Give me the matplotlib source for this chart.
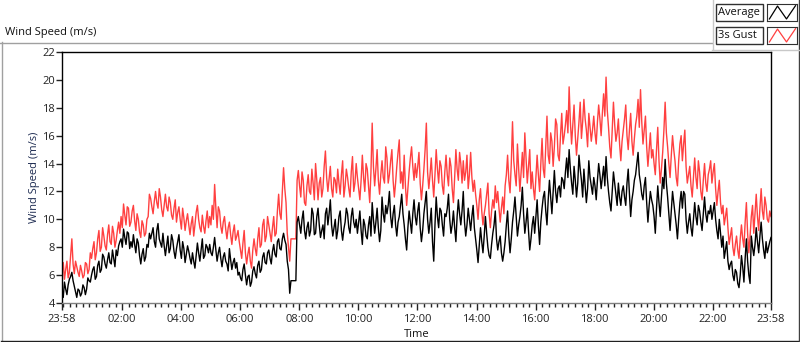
import matplotlib
matplotlib.use('Agg')
import matplotlib.pyplot as plt
from matplotlib.lines import Line2D
from matplotlib.patches import Rectangle
import numpy as np

# ---------------- data (2.5-minute samples starting 23:58) ----------------
minutes = np.arange(0, 1441, 2.5)

gust = [
    6.5, 6.9, 5.7, 6.4, 7.0, 5.8, 6.2, 7.4, 8.6, 6.8, 6.1, 7.0, 6.6, 6.2, 5.9, 6.7, 6.3, 5.8, 6.0, 6.9, 6.8, 6.1, 6.4, 7.6,
    7.2, 7.9, 8.4, 7.1, 7.6, 8.6, 9.2, 7.7, 8.0, 9.4, 8.8, 8.1, 7.8, 8.9, 9.6, 8.4, 8.2, 9.5, 9.0, 8.0, 8.5, 9.2, 9.8, 9.0,
    10.2, 9.4, 11.1, 10.3, 9.6, 10.9, 10.8, 9.5, 9.8, 10.6, 11.0, 9.9, 9.2, 10.4, 10.0, 9.1, 8.7, 9.9, 9.6, 8.8, 9.0, 10.0, 10.2, 11.8,
    11.5, 10.9, 10.4, 11.3, 12.0, 11.2, 10.8, 12.2, 11.6, 10.7, 10.2, 11.0, 11.8, 10.9, 10.6, 11.6, 11.2, 10.3, 10.0, 10.8, 11.4, 9.8, 10.5, 10.9,
    10.0, 9.3, 10.8, 10.1, 9.2, 9.9, 10.4, 9.6, 8.9, 9.7, 10.2, 8.8, 9.6, 10.5, 11.0, 10.0, 9.4, 9.1, 10.3, 9.5, 9.0, 9.9, 10.6, 9.4,
    10.2, 9.6, 11.0, 10.0, 12.5, 10.8, 9.4, 10.9, 10.6, 9.5, 9.0, 9.8, 10.2, 9.3, 8.6, 9.4, 9.8, 8.9, 8.2, 9.1, 9.6, 8.5, 8.8, 9.2,
    8.4, 7.8, 7.2, 8.3, 9.2, 7.6, 6.8, 7.5, 8.0, 7.0, 6.5, 7.8, 8.6, 7.9, 7.4, 8.6, 9.4, 8.0, 8.2, 9.6, 10.0, 8.4, 8.8, 10.2,
    9.6, 9.0, 8.4, 9.4, 10.2, 8.8, 9.0, 10.6, 11.8, 10.4, 10.0, 12.0, 13.7, 12.2, 11.2, 9.0, 8.0, 7.0, 8.6, 8.6, 8.6, 8.6, 8.6, 12.8,
    13.5, 12.4, 11.6, 13.4, 12.8, 11.2, 11.0, 12.4, 13.2, 12.0, 11.8, 13.6, 12.6, 11.4, 14.0, 12.8, 11.4, 12.6, 13.0, 11.6, 12.2, 13.8, 14.9, 13.0,
    12.0, 12.9, 13.8, 12.2, 11.6, 13.0, 12.8, 11.9, 13.6, 12.6, 11.8, 13.2, 14.2, 11.6, 12.4, 13.6, 13.0, 12.2, 11.6, 13.4, 14.5, 12.0, 12.6, 14.0,
    13.0, 12.2, 11.4, 12.8, 14.6, 13.0, 12.0, 14.0, 13.6, 12.4, 11.2, 13.4, 16.9, 13.8, 12.4, 13.6, 15.0, 12.8, 11.8, 13.2, 14.2, 13.0, 12.6, 15.2,
    14.4, 12.6, 13.2, 14.2, 15.0, 12.8, 11.6, 12.6, 13.8, 14.8, 15.7, 12.6, 13.4, 12.2, 14.6, 12.4, 11.0, 12.2, 13.4, 14.4, 15.2, 13.8, 12.8, 14.0,
    13.0, 13.8, 14.8, 12.6, 11.4, 12.4, 13.6, 15.0, 16.9, 13.4, 12.2, 13.2, 14.4, 12.8, 11.6, 13.2, 15.0, 13.6, 12.6, 14.2, 13.8, 12.4, 11.8, 13.4,
    14.6, 13.2, 12.4, 14.4, 13.8, 12.2, 11.2, 13.0, 15.0, 13.6, 12.8, 14.8, 14.0, 12.6, 14.2, 12.8, 13.4, 14.6, 12.2, 13.2, 14.8, 13.0, 12.0, 12.8,
    11.8, 11.0, 10.0, 11.4, 12.2, 10.6, 9.6, 10.4, 11.0, 11.8, 12.6, 10.4, 9.4, 10.6, 11.4, 10.8, 12.4, 11.2, 12.0, 10.8, 9.8, 10.8, 11.6, 10.4,
    12.4, 13.2, 14.6, 12.8, 11.9, 14.0, 17.0, 14.2, 13.2, 12.4, 15.4, 13.6, 12.0, 13.4, 14.8, 13.0, 16.2, 14.4, 12.6, 13.8, 15.0, 12.2, 13.4, 12.2,
    11.4, 13.0, 14.6, 13.2, 12.0, 14.0, 15.8, 13.6, 13.0, 15.2, 17.4, 14.6, 14.0, 16.2, 15.6, 13.8, 15.2, 17.2, 16.8, 14.6, 14.2, 16.0, 17.6, 15.4,
    16.0, 16.8, 17.8, 16.2, 19.5, 17.0, 15.4, 16.8, 18.2, 16.0, 14.6, 15.8, 17.0, 18.4, 15.8, 17.0, 18.6, 17.2, 16.4, 15.2, 17.6, 16.6, 15.6, 16.4,
    17.4, 16.2, 15.4, 17.0, 18.2, 17.2, 16.0, 17.6, 19.0, 17.4, 20.2, 17.8, 16.6, 15.2, 14.4, 16.4, 18.4, 16.8, 15.6, 16.2, 17.2, 15.4, 14.2, 15.6,
    16.4, 17.2, 18.2, 16.0, 15.0, 16.4, 17.6, 15.6, 14.6, 15.8, 16.8, 17.4, 18.6, 16.6, 19.3, 17.0, 15.4, 16.4, 17.4, 15.2, 13.8, 15.0, 16.2, 14.4,
    15.0, 14.0, 13.2, 15.0, 16.6, 14.2, 12.6, 13.6, 14.8, 16.4, 18.4, 16.2, 15.2, 14.0, 13.0, 14.6, 16.0, 15.0, 14.2, 13.0, 12.4, 14.2, 15.4, 16.0,
    14.2, 15.4, 16.4, 13.8, 12.6, 13.2, 13.8, 12.4, 11.6, 13.0, 14.4, 13.0, 12.2, 14.2, 13.4, 12.0, 11.4, 12.8, 14.0, 12.6, 12.0, 13.2, 13.6, 14.2,
    12.6, 13.4, 14.0, 12.2, 11.0, 12.0, 12.8, 11.2, 10.4, 11.0, 9.6, 10.2, 10.8, 9.4, 8.2, 8.8, 9.4, 8.0, 7.4, 8.2, 8.8, 7.8, 7.2, 8.6,
    9.6, 8.6, 8.0, 9.8, 11.2, 9.0, 7.6, 8.8, 10.2, 11.0, 9.0, 10.4, 11.8, 10.2, 9.2, 10.8, 12.2, 10.6, 10.0, 11.6, 11.0, 10.0, 9.8, 10.6,
    10.2,
]

average = [
    4.9, 4.4, 5.5, 5.0, 4.6, 5.3, 5.7, 5.9, 6.2, 5.6, 5.2, 4.8, 4.4, 5.0, 4.9, 4.5, 4.7, 5.3, 5.1, 4.6, 5.0, 5.8, 5.6, 5.5,
    6.0, 6.4, 6.6, 5.7, 5.9, 6.7, 7.0, 6.2, 6.4, 7.5, 7.3, 6.8, 6.5, 7.1, 7.6, 6.9, 6.8, 7.8, 7.2, 6.6, 7.8, 7.4, 8.1, 8.4,
    8.6, 8.0, 9.3, 8.7, 8.2, 9.1, 9.0, 7.9, 8.4, 8.0, 8.9, 8.2, 7.6, 8.6, 8.3, 7.4, 6.8, 7.5, 7.9, 7.0, 7.3, 8.2, 8.0, 9.0,
    8.6, 9.0, 9.4, 8.4, 8.0, 9.2, 9.7, 8.6, 8.3, 8.0, 9.0, 8.1, 7.4, 8.1, 8.8, 7.6, 7.9, 8.9, 8.5, 7.7, 7.2, 7.9, 8.4, 8.9,
    7.8, 7.2, 8.4, 7.9, 6.9, 7.5, 8.1, 7.7, 7.2, 6.8, 7.6, 7.0, 6.5, 7.4, 8.3, 7.6, 7.0, 7.8, 8.6, 7.2, 7.4, 8.2, 8.0, 7.6,
    8.2, 7.6, 7.4, 8.0, 8.7, 7.8, 7.0, 7.6, 8.0, 7.2, 6.6, 7.3, 7.6, 7.0, 6.8, 6.3, 7.9, 7.1, 6.4, 6.9, 7.2, 6.5, 6.9, 6.0,
    6.2, 5.8, 5.6, 6.4, 6.8, 6.0, 5.3, 5.9, 6.0, 5.2, 5.5, 6.3, 6.6, 6.1, 5.8, 6.7, 7.0, 6.2, 6.4, 7.3, 7.6, 6.9, 6.8, 7.6,
    7.8, 7.2, 6.8, 7.7, 8.2, 7.5, 7.3, 8.4, 8.6, 7.9, 7.8, 8.6, 9.0, 8.5, 8.2, 7.0, 6.4, 4.7, 5.6, 5.6, 5.6, 5.6, 5.6, 9.8,
    10.2, 9.6, 9.0, 10.0, 10.6, 9.2, 8.6, 9.4, 9.8, 8.8, 9.2, 10.8, 10.4, 8.9, 9.0, 10.2, 10.8, 9.6, 8.7, 9.2, 9.6, 8.6, 10.4, 10.8,
    9.6, 10.4, 11.4, 9.6, 8.8, 9.4, 10.0, 8.6, 9.2, 10.2, 10.6, 9.2, 8.5, 9.3, 9.8, 10.8, 10.4, 9.4, 9.0, 10.2, 10.8, 9.8, 9.4, 10.0,
    9.0, 9.8, 10.6, 9.2, 8.2, 10.0, 9.6, 8.8, 8.6, 9.6, 10.2, 8.8, 11.2, 10.0, 9.0, 9.8, 10.8, 9.4, 8.4, 9.2, 11.6, 10.4, 9.8, 11.0,
    10.4, 11.0, 12.0, 10.2, 9.4, 10.4, 11.0, 9.6, 8.8, 9.8, 10.2, 11.0, 11.8, 10.4, 9.6, 8.6, 7.8, 9.4, 10.6, 9.8, 9.0, 10.4, 11.4, 10.2,
    9.6, 10.6, 11.2, 9.4, 8.4, 9.2, 10.4, 11.2, 12.0, 10.0, 9.0, 9.8, 10.8, 8.4, 7.0, 9.6, 11.6, 10.2, 9.4, 10.8, 10.6, 9.6, 8.8, 10.4,
    10.2, 10.8, 11.8, 10.0, 9.0, 9.6, 10.6, 9.4, 8.4, 10.2, 11.4, 10.4, 9.6, 10.6, 12.0, 9.8, 8.8, 9.6, 10.8, 10.0, 9.2, 10.2, 11.0, 9.4,
    8.6, 7.8, 6.9, 8.2, 9.4, 8.4, 7.6, 8.8, 10.2, 9.0, 8.0, 7.4, 7.2, 8.2, 9.0, 9.6, 10.6, 8.6, 7.8, 8.4, 8.8, 7.6, 7.0, 7.6,
    8.4, 9.6, 10.6, 8.8, 7.6, 8.6, 9.8, 10.6, 11.6, 10.2, 8.8, 9.6, 10.2, 11.0, 12.3, 10.4, 9.0, 9.8, 10.8, 9.2, 7.8, 8.6, 9.6, 10.2,
    9.0, 10.2, 11.4, 9.6, 8.2, 9.8, 10.8, 11.6, 12.0, 10.6, 9.6, 11.4, 12.8, 11.6, 10.4, 12.0, 13.5, 12.0, 11.2, 12.2, 12.4, 11.6, 13.0, 12.8,
    12.2, 13.4, 14.4, 13.0, 15.0, 13.6, 12.6, 11.8, 13.8, 12.8, 11.6, 12.6, 14.6, 13.6, 12.8, 11.6, 13.6, 12.4, 11.2, 12.2, 14.2, 13.0, 12.4, 11.8,
    13.0, 12.4, 11.4, 12.8, 14.0, 13.2, 12.2, 13.0, 13.8, 12.4, 14.5, 13.0, 12.0, 11.2, 10.6, 12.0, 13.4, 12.6, 11.8, 11.0, 12.6, 11.6, 11.0, 12.0,
    12.4, 11.6, 11.0, 12.6, 13.6, 11.8, 10.2, 11.4, 12.0, 12.8, 13.2, 14.0, 14.8, 13.2, 12.6, 11.8, 11.4, 12.4, 13.0, 11.2, 9.8, 11.0, 12.0, 11.4,
    11.0, 10.2, 9.0, 10.8, 12.4, 11.2, 10.2, 11.6, 13.0, 12.2, 14.3, 12.6, 11.6, 10.4, 9.2, 10.6, 12.0, 11.2, 10.4, 9.6, 8.6, 10.0, 11.2, 12.0,
    10.8, 12.0, 11.8, 10.0, 9.0, 9.8, 10.4, 9.4, 8.8, 10.0, 11.2, 10.2, 9.6, 11.0, 10.6, 9.8, 9.2, 10.4, 11.6, 10.4, 9.8, 10.6, 10.4, 11.0,
    10.0, 10.6, 11.2, 10.0, 9.2, 8.6, 10.0, 9.0, 8.0, 8.8, 7.2, 7.8, 8.4, 7.0, 6.4, 6.8, 7.0, 6.0, 5.6, 6.4, 6.2, 5.4, 5.1, 6.0,
    7.4, 6.6, 5.5, 7.2, 8.6, 7.0, 6.0, 5.4, 8.8, 8.0, 7.4, 8.2, 9.4, 8.4, 7.6, 8.8, 9.8, 8.6, 7.8, 7.2, 8.4, 7.6, 8.0, 8.4,
    8.7,
]

tick_minutes = [0, 122, 242, 362, 482, 602, 722, 842, 962, 1082, 1202, 1322, 1440]
tick_labels = ['23:58', '02:00', '04:00', '06:00', '08:00', '10:00', '12:00',
               '14:00', '16:00', '18:00', '20:00', '22:00', '23:58']
y_ticks = [4, 6, 8, 10, 12, 14, 16, 18, 20, 22]
series_names = ['Average', '3s Gust']
series_colors = ['#000000', '#ff4040']

# ---------------- figure ----------------
plt.rcParams['font.family'] = ['Open Sans', 'DejaVu Sans']
W, H = 800, 342
fig = plt.figure(figsize=(W / 100, H / 100), dpi=100)
fig.patch.set_facecolor('white')

def fx(x):
    return x / W

def fy(y):
    return 1 - y / H

ax = fig.add_axes([fx(62), fy(303), fx(771) - fx(62), fy(52) - fy(303)])
ax.plot(minutes, gust, color=series_colors[1], lw=1.0)
ax.plot(minutes, average, color=series_colors[0], lw=1.0)
ax.set_xlim(0, 1440)
ax.set_ylim(4, 22)

ax.set_xticks(tick_minutes)
ax.set_xticklabels(tick_labels)
minor = [m for m in np.arange(2, 1440, 120 / 9) if 0 < m < 1440]
ax.set_xticks(minor, minor=True)
ax.set_yticks(y_ticks)
ax.tick_params(axis='x', which='major', length=5, width=1, direction='out',
               labelsize=8, colors='#222222', pad=3)
ax.tick_params(axis='x', which='minor', length=3, width=1, direction='out', colors='#222222')
ax.tick_params(axis='y', which='major', length=4, width=1, direction='out',
               labelsize=8, colors='#222222', pad=1)
ax.set_xlabel('Time', fontsize=8, color='#111111', labelpad=3)
ax.set_ylabel('Wind Speed (m/s)', fontsize=8, color='#1c2a50', labelpad=2)

for s in ['top', 'left', 'right']:
    ax.spines[s].set_color('black')
    ax.spines[s].set_linewidth(1)
ax.spines['bottom'].set_color('#808080')
ax.spines['bottom'].set_linewidth(1)

# outer frame decoration
def hline(y, x0, x1, color, lw=1):
    fig.add_artist(Line2D([fx(x0), fx(x1)], [fy(y), fy(y)], color=color, lw=lw))

def vline(x, y0, y1, color, lw=1):
    fig.add_artist(Line2D([fx(x), fx(x)], [fy(y0), fy(y1)], color=color, lw=lw))

hline(42.5, 0, 712, '#a0a0a0')
vline(1.5, 42, 341, '#a0a0a0')
hline(340.5, 1, 799, '#202020')
vline(798.5, 0, 341, '#404040')
vline(712.5, 0, 49, '#c8c8c8')
hline(49.5, 712, 799, '#c8c8c8')

fig.text(fx(5), fy(32), 'Wind Speed (m/s)', fontsize=8, color='#111111',
         ha='left', va='center')

# legend (LabVIEW-style boxes)
rows = [(4, 21), (27, 44)]
for (y0, y1), name, col in zip(rows, series_names, series_colors):
    fig.add_artist(Rectangle((fx(716), fy(y1)), fx(763) - fx(716), fy(y0) - fy(y1),
                             facecolor='white', edgecolor='#303030', lw=1))
    fig.text(fx(718), fy((y0 + y1) / 2), name, fontsize=8, color='#111111',
             ha='left', va='center')
    iax = fig.add_axes([fx(767), fy(y1), fx(797) - fx(767), fy(y0) - fy(y1)])
    iax.set_xlim(0, 1)
    iax.set_ylim(0, 1)
    iax.plot([0.08, 0.35, 0.65, 0.95], [0.12, 0.88, 0.12, 0.9], color=col, lw=0.9)
    iax.set_xticks([])
    iax.set_yticks([])
    for s in iax.spines.values():
        s.set_color('#303030')

fig.savefig('out.png', dpi=100)
